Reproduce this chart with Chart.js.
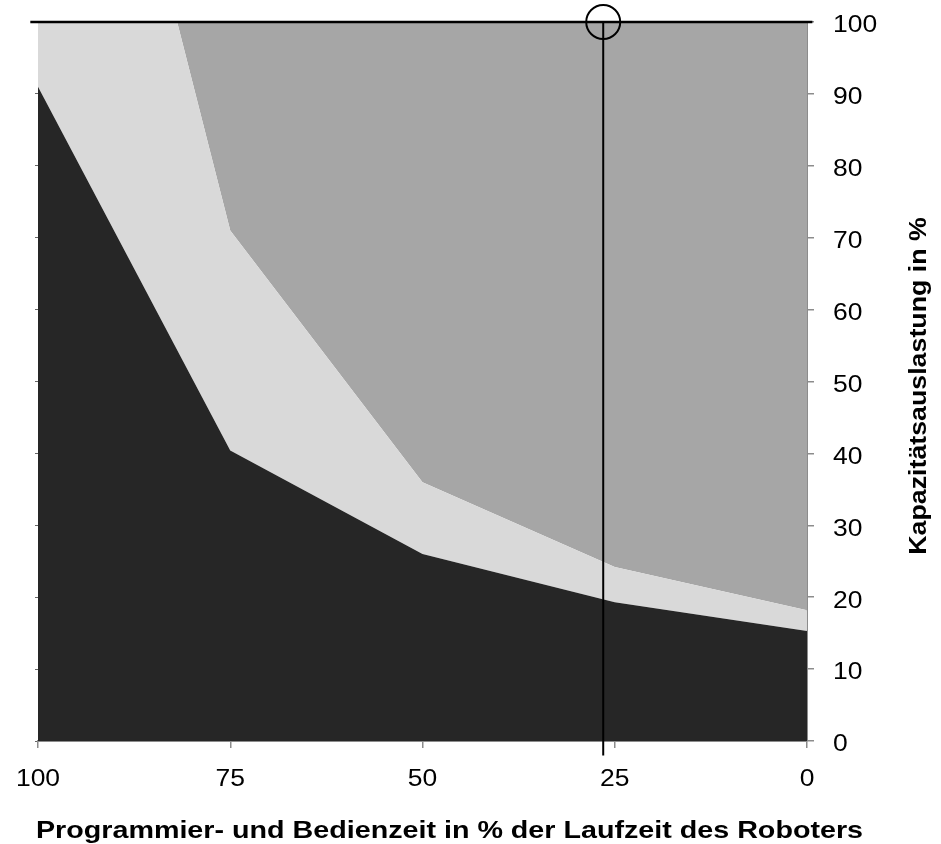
<!DOCTYPE html>
<html>
<head>
<meta charset="utf-8">
<script src="https://cdn.jsdelivr.net/npm/chart.js@4/dist/chart.umd.min.js"></script>
<style>
    html, body { margin: 0; padding: 0; background: #fff; }
    #wrap { width: 941px; height: 844px; }
</style>
</head>
<body>
<div id="wrap"><canvas id="chart" width="941" height="844"></canvas></div>
<script>
// Programmier- und Bedienzeit (x, reversed) -> upper edge of each band
var zeit = [100, 75, 50, 25, 0];
var dunkel = [91, 40.4, 26, 19.3, 15.3];   // lower band top
var hell = [176, 71, 36, 24.2, 18.2];      // middle band top (clipped at 100)
var mittel = [100, 100, 100, 100, 100];    // upper band top
var xTicks = [100, 75, 50, 25, 0];
var yTicks = [0, 10, 20, 30, 40, 50, 60, 70, 80, 90, 100];

// marker: operating point
var markerX = 26.5;
var markerY = 100;

var xTitle = 'Programmier- und Bedienzeit in % der Laufzeit des Roboters';
var yTitle = 'Kapazitätsauslastung in %';

function toPoints(xs, ys) {
    return xs.map(function (x, i) { return { x: x, y: ys[i] }; });
}

var axisGray = '#8c8c8c';
var fontFamily = '"Liberation Sans", Arial, sans-serif';

// the original lettering is a little wider than Arial, so stretch it
function stretchedText(ctx, text, x, y, sx, align, baseline, rot) {
    ctx.save();
    ctx.translate(x, y);
    if (rot) ctx.rotate(rot);
    ctx.scale(sx, 1);
    ctx.textAlign = align;
    ctx.textBaseline = baseline;
    ctx.fillText(text, 0, 0);
    ctx.restore();
}

var labelPlugin = {
    id: 'labels',
    afterDraw: function (chart) {
        var ctx = chart.ctx;
        var xs = chart.scales.x;
        var ys = chart.scales.y;
        ctx.save();
        ctx.fillStyle = '#000';
        ctx.font = '23px ' + fontFamily;
        xTicks.forEach(function (v) {
            stretchedText(ctx, String(v), xs.getPixelForValue(v), 780, 1.15, 'center', 'middle');
        });
        yTicks.forEach(function (v) {
            stretchedText(ctx, String(v), 833, ys.getPixelForValue(v) + 4, 1.15, 'left', 'middle');
        });
        ctx.font = 'bold 24px ' + fontFamily;
        stretchedText(ctx, xTitle, (xs.left + xs.right) / 2 + 27, 838, 1.195, 'center', 'alphabetic');
        stretchedText(ctx, yTitle, 926, 386, 1.115, 'center', 'alphabetic', -Math.PI / 2);
        ctx.restore();
    }
};

new Chart(document.getElementById('chart'), {
    type: 'line',
    data: {
        datasets: [{
            data: toPoints(zeit, dunkel),
            backgroundColor: '#262626',
            borderWidth: 0,
            pointRadius: 0,
            fill: 'origin'
        }, {
            data: toPoints(zeit, hell),
            backgroundColor: '#d9d9d9',
            borderWidth: 0,
            pointRadius: 0,
            fill: '-1'
        }, {
            data: toPoints(zeit, mittel),
            backgroundColor: '#a6a6a6',
            borderWidth: 0,
            pointRadius: 0,
            fill: '-1'
        }, {
            // top line
            data: [{ x: 101, y: markerY }, { x: -0.7, y: markerY }],
            borderColor: '#000',
            borderWidth: 2.5,
            pointRadius: 0,
            fill: false,
            clip: false,
            order: -1
        }, {
            // vertical marker line
            data: [{ x: markerX, y: -2 }, { x: markerX, y: markerY }],
            borderColor: '#000',
            borderWidth: 2,
            pointRadius: 0,
            fill: false,
            clip: false,
            order: -1
        }, {
            // circle
            data: [{ x: markerX, y: markerY }],
            showLine: false,
            pointRadius: 17,
            pointStyle: 'circle',
            pointBorderColor: '#000',
            pointBorderWidth: 2,
            pointBackgroundColor: 'rgba(0,0,0,0)',
            clip: false,
            order: -1
        }]
    },
    options: {
        responsive: false,
        animation: false,
        layout: { padding: { left: 35, top: 22, right: 0, bottom: 0 } },
        plugins: {
            legend: { display: false },
            tooltip: { enabled: false }
        },
        elements: { line: { tension: 0 } },
        scales: {
            x: {
                type: 'linear',
                min: 0,
                max: 100,
                reverse: true,
                afterBuildTicks: function (scale) {
                    scale.ticks = xTicks.map(function (v) { return { value: v }; });
                },
                afterFit: function (scale) { scale.height = 103; },
                grid: { drawOnChartArea: false, drawTicks: true, tickLength: 7, color: axisGray, lineWidth: 1.5 },
                border: { color: axisGray, width: 2 },
                ticks: { display: false }
            },
            y: {
                position: 'right',
                min: 0,
                max: 100,
                afterBuildTicks: function (scale) {
                    scale.ticks = yTicks.map(function (v) { return { value: v }; });
                },
                afterFit: function (scale) { scale.width = 134; },
                grid: { drawOnChartArea: false, drawTicks: true, tickLength: 7, color: axisGray, lineWidth: 1.5 },
                border: { color: axisGray, width: 2 },
                ticks: { display: false }
            },
            yLeft: {
                position: 'left',
                min: 0,
                max: 100,
                afterBuildTicks: function (scale) {
                    scale.ticks = yTicks.map(function (v) { return { value: v }; });
                },
                afterFit: function (scale) { scale.width = 3; },
                grid: { drawOnChartArea: false, drawTicks: true, tickLength: 3, color: '#666', lineWidth: 1 },
                border: { display: false },
                ticks: { display: false }
            }
        }
    },
    plugins: [labelPlugin]
});
</script>
</body>
</html>
